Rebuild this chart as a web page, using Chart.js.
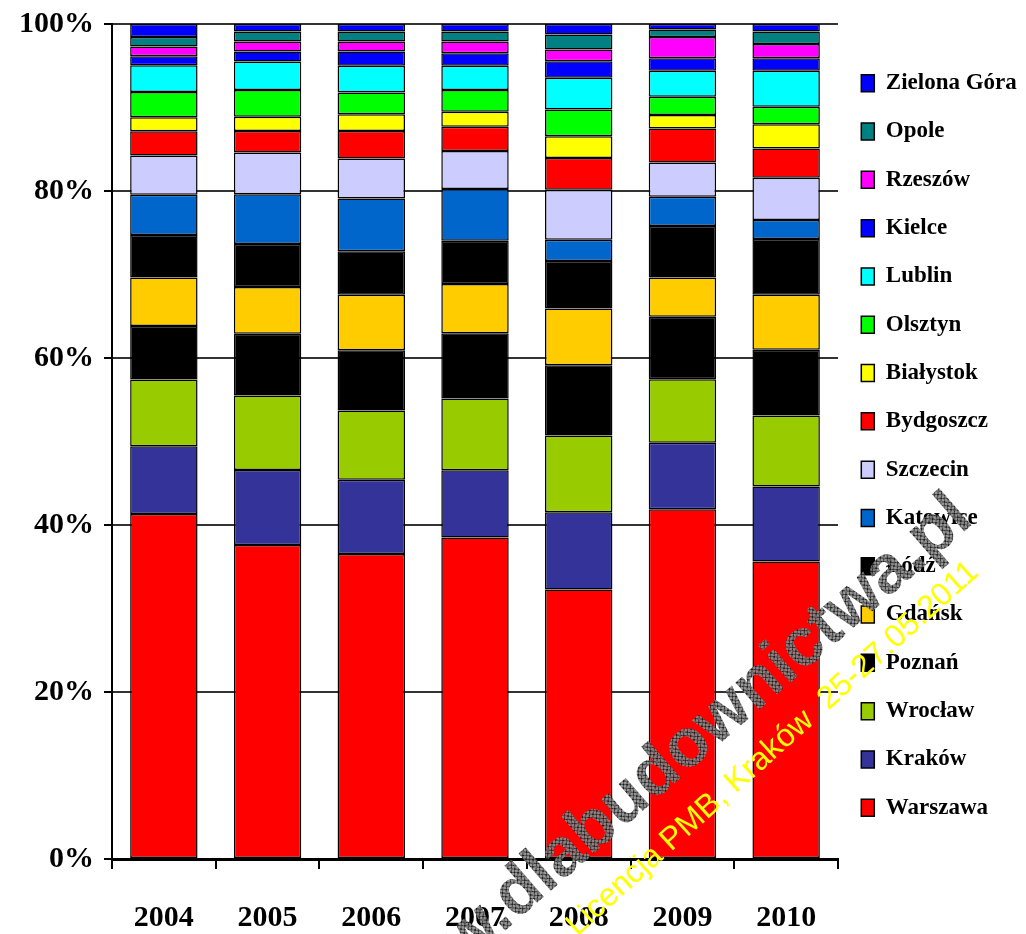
<!DOCTYPE html>
<html>
<head>
<meta charset="utf-8">
<script src="https://cdn.jsdelivr.net/npm/chart.js@4"></script>
<style>
  html, body { margin: 0; padding: 0; background: #fff; }
</style>
</head>
<body>
<canvas id="cityChart" width="1026" height="934"></canvas>
<script>
const years = ['2004', '2005', '2006', '2007', '2008', '2009', '2010'];

// udzialy miast w % (czytane z wykresu), od dolu
const warszawa = [41.3, 37.6, 36.5, 38.5, 32.3, 41.9, 35.6];
const krakow = [8.1, 9.0, 8.9, 8.05, 9.25, 7.95, 9.0];
const wroclaw = [8.0, 8.9, 8.3, 8.6, 9.2, 7.6, 8.5];
const poznan = [6.4, 7.4, 7.2, 7.8, 8.4, 7.5, 7.85];
const gdansk = [5.8, 5.6, 6.65, 5.9, 6.8, 4.7, 6.6];
const lodz = [5.1, 5.15, 5.2, 5.2, 5.7, 6.15, 6.65];
const katowice = [4.8, 5.95, 6.3, 6.2, 2.55, 3.5, 2.3];
const szczecin = [4.7, 5.0, 4.8, 4.55, 6.0, 4.1, 5.05];
const bydgoszcz = [2.9, 2.6, 3.3, 2.9, 3.8, 4.1, 3.5];
const bialystok = [1.7, 1.7, 2.0, 1.8, 2.6, 1.6, 2.9];
const olsztyn = [3.0, 3.2, 2.6, 2.6, 3.2, 2.2, 2.1];
const lublin = [3.2, 3.4, 3.2, 2.9, 3.8, 3.1, 4.3];
const kielce = [1.1, 1.2, 1.7, 1.5, 2.0, 1.5, 1.5];
const rzeszow = [1.15, 1.2, 1.2, 1.4, 1.4, 2.55, 1.7];
const opole = [1.15, 1.2, 1.2, 1.2, 1.8, 0.9, 1.5];
const zielonaGora = [1.55, 0.9, 0.9, 0.9, 1.25, 0.65, 0.9];

const yTicks = [0, 20, 40, 60, 80, 100];

const series = [
  ['Warszawa', warszawa, '#FF0000'],
  ['Kraków', krakow, '#333399'],
  ['Wrocław', wroclaw, '#99CC00'],
  ['Poznań', poznan, '#000000'],
  ['Gdańsk', gdansk, '#FFCC00'],
  ['Łódź', lodz, '#000000'],
  ['Katowice', katowice, '#0066CC'],
  ['Szczecin', szczecin, '#CCCCFF'],
  ['Bydgoszcz', bydgoszcz, '#FF0000'],
  ['Białystok', bialystok, '#FFFF00'],
  ['Olsztyn', olsztyn, '#00FF00'],
  ['Lublin', lublin, '#00FFFF'],
  ['Kielce', kielce, '#0000FF'],
  ['Rzeszów', rzeszow, '#FF00FF'],
  ['Opole', opole, '#008080'],
  ['Zielona Góra', zielonaGora, '#0000FF'],
];

// 100% stacked: normalise each year to its total
const totals = years.map((_, i) => series.reduce((s, d) => s + d[1][i], 0));

const datasets = series.map(([label, values, color]) => ({
  label: label,
  data: values.map((v, i) => v / totals[i] * 100),
  backgroundColor: color,
  borderColor: '#000',
  borderWidth: 1.5,
  borderSkipped: false,
  barPercentage: 0.65,
  categoryPercentage: 1.0,
}));

const tickFont = { family: "'Liberation Serif', 'Times New Roman', serif", weight: 'bold', size: 30 };

function hatchPattern(ctx) {
  const c = document.createElement('canvas');
  c.width = 5; c.height = 5;
  const p = c.getContext('2d');
  p.fillStyle = 'rgba(140,140,140,0.9)';
  p.fillRect(0, 0, 5, 5);
  p.strokeStyle = 'rgba(20,20,20,0.9)';
  p.lineWidth = 1;
  p.beginPath();
  p.moveTo(0, 0); p.lineTo(5, 5);
  p.moveTo(5, 0); p.lineTo(0, 5);
  p.stroke();
  return ctx.createPattern(c, 'repeat');
}

// legend width fixed so plot ends where the original does, and nudge it a little
const legendWidthFix = {
  id: 'legendWidthFix',
  afterInit(chart) {
    const legend = chart.legend;
    const fit = legend.fit;
    legend.fit = function () {
      fit.call(this);
      this.width = 188;
    };
    const draw = legend.draw;
    legend.draw = function () {
      this.ctx.save();
      this.ctx.translate(-2, 4);
      draw.call(this);
      this.ctx.restore();
    };
  }
};

const watermark = {
  id: 'watermark',
  afterDraw(chart) {
    const ctx = chart.ctx;
    ctx.save();
    ctx.translate(975, 522);
    ctx.rotate(-41 * Math.PI / 180);
    ctx.textAlign = 'right';
    ctx.textBaseline = 'alphabetic';
    ctx.font = "bold 68px 'Liberation Sans', Arial, sans-serif";
    ctx.fillStyle = hatchPattern(ctx);
    ctx.fillText('www.dlabudownictwa.pl', 0, 0);
    ctx.restore();

    ctx.save();
    ctx.translate(980, 574);
    ctx.rotate(-42 * Math.PI / 180);
    ctx.textAlign = 'right';
    ctx.font = "32px 'Liberation Sans', Arial, sans-serif";
    ctx.fillStyle = '#FFFF00';
    ctx.fillText('Licencja PMB, Kraków  25-27.05.2011', 0, 0);
    ctx.restore();
  }
};

const ctx = document.getElementById('cityChart').getContext('2d');
const cityChart = new Chart(ctx, {
  type: 'bar',
  data: { labels: years, datasets: datasets },
  plugins: [legendWidthFix, watermark],
  options: {
    responsive: false,
    animation: false,
    layout: { padding: { top: 24, left: 0, right: 0, bottom: 0 } },
    plugins: {
      tooltip: { enabled: false },
      legend: {
        position: 'right',
        fullSize: false,
        reverse: true,
        align: 'center',
        labels: {
          boxWidth: 13,
          boxHeight: 17,
          padding: 25.3,
          color: '#000',
          font: { family: "'Liberation Serif', 'Times New Roman', serif", weight: 'bold', size: 23 },
        },
      },
    },
    scales: {
      x: {
        stacked: true,
        grid: { offset: true, drawOnChartArea: false, color: '#000', lineWidth: 2, tickLength: 10 },
        border: { color: '#000', width: 3 },
        ticks: { color: '#000', font: tickFont, padding: 31 },
        afterFit: (scale) => { scale.height = 75; },
      },
      y: {
        stacked: true,
        min: 0,
        max: 100,
        afterBuildTicks: (scale) => { scale.ticks = yTicks.map((v) => ({ value: v })); },
        grid: { color: '#333', lineWidth: 2, tickLength: 8, tickColor: '#000' },
        border: { color: '#000', width: 2 },
        ticks: { color: '#000', font: tickFont, padding: 10, callback: (v) => v + '%' },
        afterFit: (scale) => {
          scale.width = 112;
          scale.paddingTop = 0;
          scale.paddingBottom = 0;
        },
      },
    },
  },
});
</script>
</body>
</html>
